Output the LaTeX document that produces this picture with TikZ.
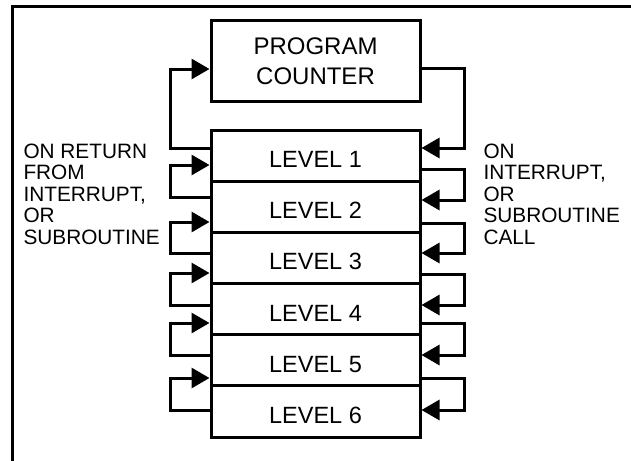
\documentclass[tikz,border=0pt]{standalone}
\usepackage{fontspec}
\setmainfont{Liberation Sans}
\usetikzlibrary{arrows.meta}
\begin{document}
\begin{tikzpicture}[x=1pt,y=-1pt,line width=3pt,
  box/.style={draw, line width=3pt, minimum width=209pt, inner sep=0pt},
  lvl/.style={box, minimum height=51.17pt, font=\fontsize{23.5}{28}\selectfont, text height=24pt},
  conn/.style={line width=3pt, -{Triangle[length=18pt,width=20pt]}},
  side/.style={anchor=north west, inner sep=0pt, align=left, font=\fontsize{20.8}{21.6}\selectfont}
]
\useasboundingbox (0,0) rectangle (631,460);
\fill[white] (0,0) rectangle (631,460);
% frame
\draw[line width=3pt] (12.5,462) -- (12.5,7) -- (633,7);
% boxes
\node[box, minimum height=80pt, align=center, font=\fontsize{24}{30}\selectfont] (PC) at (315.5,61) {PROGRAM\\COUNTER};
\foreach \k in {1,...,6}
  \node[lvl] (L\k) at (315.5,{130+51.17*(\k-0.5)}) {LEVEL \k};
% return to program counter
\draw[conn] (L1.west |- 0,148) -- (170,148) |- (PC.west |- 0,69);
\draw[conn] (PC.east |- 0,68) -- (464,68) |- (L1.east |- 0,148);
% left loops (return)
\foreach \k/\n/\yo/\yi in {1/2/197/165, 2/3/253/222, 3/4/305/273, 4/5/355/323, 5/6/410/378}
  \draw[conn] (L\n.west |- 0,\yo) -- (170,\yo) |- (L\k.west |- 0,\yi);
% right loops (call)
\foreach \k/\n/\yo/\yi in {1/2/169/200, 2/3/223/253, 3/4/274/305, 4/5/323/355, 5/6/378/410}
  \draw[conn] (L\k.east |- 0,\yo) -- (464,\yo) |- (L\n.east |- 0,\yi);
% labels
\node[side] (lt) at (22,142) {ON RETURN\\FROM\\INTERRUPT,\\OR\\SUBROUTINE};
\node[side] (rt) at (482,142) {ON\\INTERRUPT,\\OR\\SUBROUTINE\\CALL};
\end{tikzpicture}
\end{document}
